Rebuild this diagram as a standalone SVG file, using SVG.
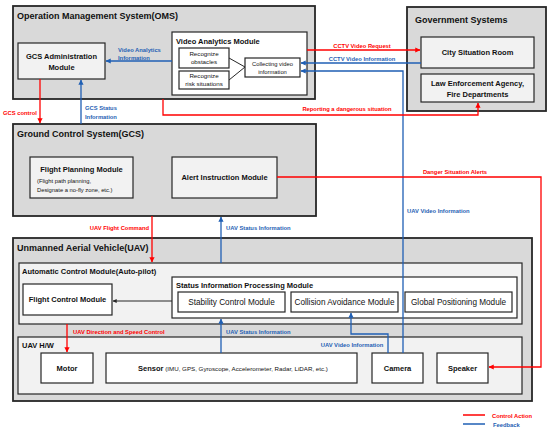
<svg xmlns="http://www.w3.org/2000/svg" width="550" height="431" viewBox="0 0 550 431">
<defs>
<marker id="ar" viewBox="0 0 6 6" refX="5.5" refY="3" markerWidth="4" markerHeight="4" orient="auto"><path d="M0,0 L6,3 L0,6 z" fill="#ff0000"/></marker>
<marker id="ab" viewBox="0 0 6 6" refX="5.5" refY="3" markerWidth="4" markerHeight="4" orient="auto"><path d="M0,0 L6,3 L0,6 z" fill="#1f5fb4"/></marker>
<marker id="ak" viewBox="0 0 6 6" refX="5.5" refY="3" markerWidth="4" markerHeight="4" orient="auto"><path d="M0,0 L6,3 L0,6 z" fill="#262626"/></marker>
</defs>
<style>
text{font-family:"Liberation Sans",Arial,sans-serif;fill:#111}
.outer{fill:#d9d9d9;stroke:#262626;stroke-width:1.8}
.light{fill:#f2f2f2;stroke:#262626;stroke-width:1.2}
.white{fill:#ffffff;stroke:#262626;stroke-width:1.2}
.t1{font-size:9px;font-weight:bold}
.t2{font-size:7.5px;font-weight:bold}
.t3{font-size:8.2px}
.t4{font-size:5.8px}
.t5{font-size:6.2px}
.lr{font-size:5.8px;font-weight:bold;fill:#ff0000}
.lb{font-size:5.8px;font-weight:bold;fill:#1f5fb4}
.cr{fill:none;stroke:#ff0000;stroke-width:1.3}
.cb{fill:none;stroke:#1f5fb4;stroke-width:1.3}
.ck{fill:none;stroke:#262626;stroke-width:1}
</style>

<g id="oms">
<rect class="outer" x="13" y="6" width="302" height="93"/>
<text class="t1" x="17" y="19">Operation Management System(OMS)</text>
</g>
<g id="gcs-admin">
<rect class="light" x="18" y="43" width="87" height="36"/>
<text class="t2" x="61.5" y="59" text-anchor="middle">GCS Administration</text>
<text class="t2" x="61.5" y="70" text-anchor="middle">Module</text>
</g>
<g id="video-analytics">
<rect class="white" x="172" y="32" width="135" height="63"/>
<text class="t2" x="176" y="44">Video Analytics Module</text>
</g>
<g id="recognize-obstacles">
<rect class="white" x="179" y="48" width="50" height="20"/>
<text class="t5" x="204" y="56" text-anchor="middle">Recognize</text>
<text class="t5" x="204" y="64" text-anchor="middle">obstacles</text>
</g>
<g id="recognize-risk">
<rect class="white" x="179" y="71" width="50" height="18"/>
<text class="t5" x="204" y="78" text-anchor="middle">Recognize</text>
<text class="t5" x="204" y="86" text-anchor="middle">risk situations</text>
</g>
<g id="collecting-video">
<rect class="white" x="245" y="58" width="55" height="19"/>
<text class="t4" x="272.5" y="66" text-anchor="middle">Collecting video</text>
<text class="t4" x="272.5" y="74" text-anchor="middle">information</text>
</g>

<g id="gov">
<rect class="outer" x="407" y="7" width="139" height="104"/>
<text class="t1" x="415" y="23">Government Systems</text>
</g>
<g id="city-room">
<rect class="light" x="421" y="37" width="113" height="31"/>
<text class="t2" x="477.5" y="55" text-anchor="middle">City Situation Room</text>
</g>
<g id="law">
<rect class="light" x="421" y="74" width="113" height="28"/>
<text class="t2" x="477.5" y="86" text-anchor="middle">Law Enforcement Agency,</text>
<text class="t2" x="477.5" y="97" text-anchor="middle">Fire Departments</text>
</g>

<g id="gcs">
<rect class="outer" x="13" y="124" width="303" height="92"/>
<text class="t1" x="17" y="137">Ground Control System(GCS)</text>
</g>
<g id="flight-planning">
<rect class="light" x="30" y="157" width="103" height="41"/>
<text class="t2" x="81.5" y="172" text-anchor="middle">Flight Planning Module</text>
<text class="t4" x="37" y="183">(Flight path planning,</text>
<text class="t4" x="37" y="192">Designate a no-fly zone, etc.)</text>
</g>
<g id="alert">
<rect class="light" x="172" y="157" width="105" height="41"/>
<text class="t2" x="224.5" y="180" text-anchor="middle">Alert Instruction Module</text>
</g>

<g id="uav">
<rect class="outer" x="13" y="238" width="519" height="163"/>
<text class="t1" x="17" y="251">Unmanned Aerial Vehicle(UAV)</text>
</g>
<g id="autopilot">
<rect class="light" x="19" y="263" width="503" height="61"/>
<text class="t2" x="22" y="274">Automatic Control Module(Auto-pilot)</text>
</g>
<g id="flight-control">
<rect class="white" x="23" y="284" width="89" height="31"/>
<text class="t2" x="67.5" y="302" text-anchor="middle">Flight Control Module</text>
</g>
<g id="status-processing">
<rect class="white" x="172" y="277" width="345" height="41"/>
<text class="t2" x="176" y="288">Status Information Processing Module</text>
</g>
<g id="stability">
<rect class="white" x="178" y="292" width="107" height="20"/>
<text class="t3" x="231.5" y="305" text-anchor="middle">Stability Control Module</text>
</g>
<g id="collision">
<rect class="white" x="291" y="292" width="107" height="20"/>
<text class="t3" x="344.5" y="305" text-anchor="middle">Collision Avoidance Module</text>
</g>
<g id="global-pos">
<rect class="white" x="405" y="292" width="107" height="20"/>
<text class="t3" x="458.5" y="305" text-anchor="middle">Global Positioning Module</text>
</g>
<g id="uav-hw">
<rect class="light" x="18" y="337" width="504" height="57"/>
<text class="t2" x="22" y="348">UAV H/W</text>
</g>
<g id="motor">
<rect class="white" x="41" y="353" width="52" height="30"/>
<text class="t2" x="67" y="371" text-anchor="middle">Motor</text>
</g>
<g id="sensor">
<rect class="white" x="106" y="353" width="251" height="30"/>
<text x="233" y="371" text-anchor="middle"><tspan class="t2">Sensor</tspan><tspan class="t5"> (IMU, GPS, Gyroscope, Accelerometer, Radar, LiDAR, etc.)</tspan></text>
</g>
<g id="camera">
<rect class="white" x="372" y="353" width="51" height="30"/>
<text class="t2" x="397.5" y="371" text-anchor="middle">Camera</text>
</g>
<g id="speaker">
<rect class="white" x="437" y="353" width="51" height="30"/>
<text class="t2" x="462.5" y="371" text-anchor="middle">Speaker</text>
</g>

<g id="connectors">
<path class="ck" d="M229,58 L245,67 M229,80 L245,67"/>
<path class="cb" d="M172,61 H106" marker-end="url(#ab)"/>
<path class="cb" d="M81,124 V80" marker-end="url(#ab)"/>
<path class="cr" d="M40,79 V123" marker-end="url(#ar)"/>
<path class="cr" d="M307,50 H420" marker-end="url(#ar)"/>
<path class="cb" d="M421,63 H301" marker-end="url(#ab)"/>
<path class="cb" d="M403,353 V71 H301" marker-end="url(#ab)"/>
<path class="cr" d="M163,99 V115 H478 V103" marker-end="url(#ar)"/>
<path class="cr" d="M277,177 H541 V367 H489" marker-end="url(#ar)"/>
<path class="cr" d="M152,216 V262" marker-end="url(#ar)"/>
<path class="cb" d="M221,263 V217" marker-end="url(#ab)"/>
<path class="ck" d="M172,301 H113" marker-end="url(#ak)"/>
<path class="cr" d="M67,324 V352" marker-end="url(#ar)"/>
<path class="cb" d="M221,353 V319" marker-end="url(#ab)"/>
<path class="cb" d="M388,353 V334 H351 V313" marker-end="url(#ab)"/>

<text class="lb" x="118" y="52">Video Analytics</text>
<text class="lb" x="118" y="60">Information</text>
<text class="lb" x="85" y="110">GCS Status</text>
<text class="lb" x="85" y="119">Information</text>
<text class="lr" x="3" y="115">GCS control</text>
<text class="lr" x="362" y="48" text-anchor="middle">CCTV Video Request</text>
<text class="lb" x="362" y="61" text-anchor="middle">CCTV Video Information</text>
<text class="lr" x="347" y="111" text-anchor="middle">Reporting a dangerous situation</text>
<text class="lr" x="455" y="174" text-anchor="middle">Danger Situation Alerts</text>
<text class="lb" x="407" y="213">UAV Video Information</text>
<text class="lr" x="149" y="230" text-anchor="end">UAV Flight Command</text>
<text class="lb" x="226" y="230">UAV Status Information</text>
<text class="lr" x="73" y="334">UAV Direction and Speed Control</text>
<text class="lb" x="226" y="334">UAV Status Information</text>
<text class="lb" x="352" y="347" text-anchor="middle">UAV Video Information</text>
</g>

<g id="legend">
<line x1="463" y1="415" x2="485" y2="415" stroke="#ff0000" stroke-width="1.5"/>
<text class="lr" x="492" y="417.5">Control Action</text>
<line x1="463" y1="424" x2="485" y2="424" stroke="#1f5fb4" stroke-width="1.5"/>
<text class="lb" x="493" y="426.5">Feedback</text>
</g>
</svg>
